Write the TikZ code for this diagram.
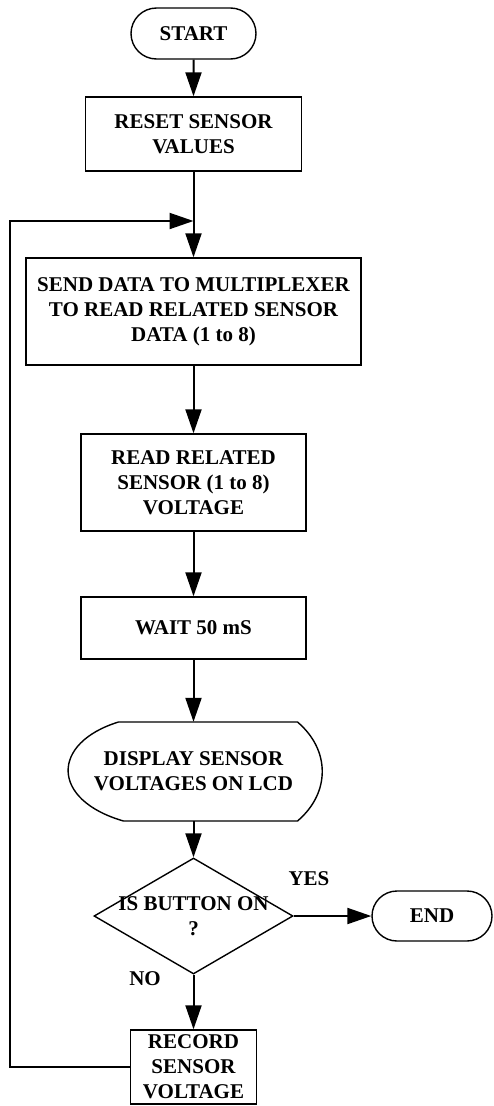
\documentclass[tikz,border=0pt]{standalone}
\usepackage{fontspec}
\setmainfont{Liberation Serif}
\usetikzlibrary{shapes, arrows.meta}

\begin{document}
\begin{tikzpicture}[x=1pt, y=-1pt,
  every node/.style={font=\bfseries\fontsize{21}{25}\selectfont, align=center, inner sep=0pt},
  stepbox/.style={rectangle, draw, line width=1.4pt},
  terminal/.style={rounded rectangle, draw, line width=1.4pt},
  decision/.style={diamond, draw, line width=1.4pt, minimum width=199pt, minimum height=116pt},
  flow/.style={line width=2pt, -{Triangle[length=24pt, width=16pt]}}]
  \useasboundingbox (0,0) rectangle (493,1106);

  \node[terminal, minimum width=125pt, minimum height=51pt] (start) at (193.5,33.5) {START};
  \node[stepbox, minimum width=216pt, minimum height=74pt] (reset) at (193.5,134) {RESET SENSOR\\VALUES};
  \node[stepbox, minimum width=335pt, minimum height=107pt] (send) at (193.5,311.5)
    {SEND DATA TO MULTIPLEXER\\TO READ RELATED SENSOR\\DATA (1 to 8)};
  \node[stepbox, minimum width=225pt, minimum height=97pt] (read) at (193.5,482.5)
    {READ RELATED\\SENSOR (1 to 8)\\VOLTAGE};
  \node[stepbox, minimum width=225pt, minimum height=62pt] (wait) at (193.5,628) {WAIT 50 mS};
  \node[minimum height=99pt] (disp) at (193.5,771.5) {DISPLAY SENSOR\\VOLTAGES ON LCD};
  \node[decision, label={[align=center]center:IS BUTTON ON\\?}] (btn) at (193.5,916) {};
  \node[terminal, minimum width=120pt, minimum height=50pt] (end) at (432,916) {END};
  \node[stepbox, minimum width=126pt, minimum height=74pt] (record) at (193.5,1067)
    {RECORD\\SENSOR\\VOLTAGE};
  \node (yes) at (309,879) {YES};
  \node (no) at (145,979) {NO};
  \coordinate (merge) at (193.5,221);

  % display symbol outline
  \draw[line width=1.4pt, shift={(disp.center)}] (-75,-49.5) -- (104,-49.5)
    .. controls (137,-21.5) and (137,21.5) .. (104,49.5) -- (-70,49.5)
    .. controls (-143,28.5) and (-143,-28.5) .. (-75,-49.5) -- cycle;

  \draw[flow] (start) -- (reset);
  \draw[flow] (reset) -- (send);
  \draw[flow] (send) -- (read);
  \draw[flow] (read) -- (wait);
  \draw[flow] (wait) -- (disp);
  \draw[flow] (disp) -- (btn);
  \draw[flow] (btn.east) -- (end.west);
  \draw[flow] (btn.south) -- (record);
  \draw[flow] (record.west) -- ++(-120,0) |- (merge);
\end{tikzpicture}
\end{document}
